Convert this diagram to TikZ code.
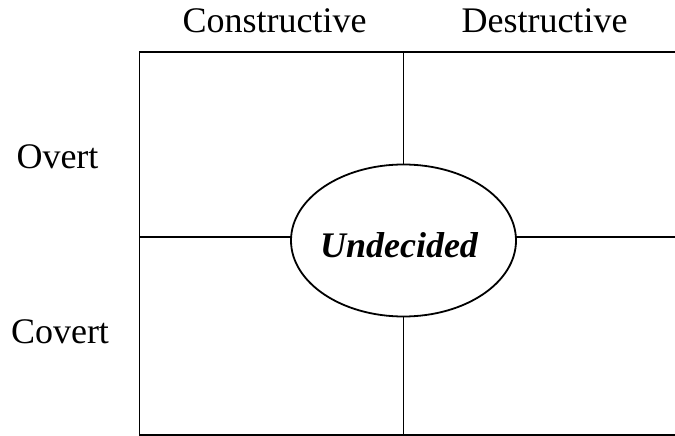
\documentclass[tikz,border=0pt]{standalone}
\usepackage{fontspec}
\setmainfont{Liberation Serif}
\usetikzlibrary{positioning, shapes.geometric}

\begin{document}
\begin{tikzpicture}[
    x=1pt, y=-1pt,
    grid/.style={draw=black, line width=1.8pt},
    heading/.style={anchor=base, inner sep=0pt,
      font=\fontsize{36}{40}\selectfont},
    centre/.style={
      ellipse, draw=black, line width=1.8pt, fill=white,
      minimum width=225pt, minimum height=152pt, inner sep=0pt
    }
  ]
    \useasboundingbox (0,0) rectangle (675,436);

    % quadrant frame
    \coordinate (tl) at (139.5,52);
    \coordinate (tr) at (676,52);
    \coordinate (bl) at (139.5,435);
    \coordinate (br) at (676,435);
    \coordinate (top) at (403.5,52);
    \coordinate (bot) at (403.5,435);
    \coordinate (left) at (139.5,237);
    \coordinate (right) at (676,237);

    \draw[grid] (tl) -- (tr) -- (br) -- (bl) -- cycle;
    \draw[grid] (top) -- (bot);
    \draw[grid] (left) -- (right);

    \node[centre] (undecided) at (403.5,240.5) {};
    \node[heading] (undecidedtext) at (399,257) {\bfseries\itshape Undecided};

    % axis labels
    \node[heading] (constr) at (274.5,33) {Constructive};
    \node[heading] (destr) at (544.5,33) {Destructive};
    \node[heading] (overt) at (57.5,168) {Overt};
    \node[heading] (covert) at (60,343) {Covert};
  \end{tikzpicture}
\end{document}
